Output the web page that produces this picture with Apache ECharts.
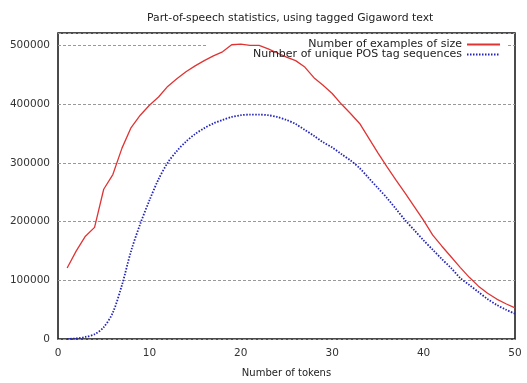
<!DOCTYPE html>
<html>
<head>
<meta charset="utf-8">
<script src="https://cdn.jsdelivr.net/npm/echarts@6/dist/echarts.min.js"></script>
<style>
html, body { margin: 0; padding: 0; background: #fff; }
#chart { width: 527px; height: 383px; }
</style>
</head>
<body>
<div id="chart"></div>
<script>
// 句子长度 (tokens)
var tokens = [];
for (var i = 1; i <= 50; i++) tokens.push(i);

// Number of examples of size
var examples = [
    121000, 150000, 175000, 190000, 255000, 280000, 325000, 360000, 381000, 398000,
    412000, 430000, 443000, 455000, 465000, 474000, 482000, 489000, 501000, 502000,
    500000, 500000, 494000, 487000, 480000, 474000, 463000, 445000, 432000, 418000,
    400000, 384000, 367000, 342000, 317000, 293000, 270000, 248000, 225000, 202000,
    177000, 158000, 140000, 122000, 105000, 90000, 78000, 68000, 60000, 53000
];

// Number of unique POS tag sequences
var uniqueTags = [
    0, 1000, 3500, 8000, 20000, 45000, 92000, 150000, 196000, 236000,
    272000, 300000, 320000, 336000, 349000, 359000, 367000, 373000, 378000, 381000,
    382000, 382000, 381000, 378000, 373000, 366000, 356000, 346000, 335000, 326000,
    315000, 304000, 291000, 274000, 257000, 240000, 221000, 202000, 185000, 168000,
    152000, 136000, 121000, 104000, 92000, 80000, 68000, 58000, 50000, 43000
];

var seriesNames = ['Number of examples of size', 'Number of unique POS tag sequences'];

function pairs(vals) {
    return tokens.map(function (t, i) { return [t, vals[i]]; });
}

var font = 'DejaVu Sans';
var myChart = echarts.init(document.getElementById('chart'));

// 图例公共样式
function keyLegend(name, top) {
    return {
        data: [name],
        right: 18,
        top: top,
        align: 'right',
        itemWidth: 33,
        itemHeight: 8,
        padding: [1, 8, 1, 8],
        itemStyle: { opacity: 0 },
        textStyle: { fontFamily: font, fontSize: 11, color: '#222' }
    };
}

var option = {
    animation: false,
    backgroundColor: '#fff',
    title: {
        text: 'Part-of-speech statistics, using tagged Gigaword text',
        left: 142,
        top: 8,
        textStyle: { fontFamily: font, fontSize: 10.8, fontWeight: 'normal', color: '#222' }
    },
    legend: [keyLegend(seriesNames[0], 38), keyLegend(seriesNames[1], 48)],
    // key box hides the grid line behind it, curves stay on top
    graphic: [{
        type: 'rect',
        left: 207,
        top: 40,
        z: 1,
        shape: { width: 300, height: 22 },
        style: { fill: '#fff' }
    }],
    grid: {
        left: 58,
        right: 12,
        top: 33,
        bottom: 37,
        show: true,
        borderColor: '#111',
        borderWidth: 1.5,
        backgroundColor: 'transparent'
    },
    xAxis: {
        type: 'value',
        min: 0,
        max: 50,
        interval: 10,
        name: 'Number of tokens',
        nameLocation: 'middle',
        nameGap: 29,
        nameTextStyle: { fontFamily: font, fontSize: 10, color: '#222' },
        axisLine: { show: false },
        axisTick: { show: false },
        splitLine: { show: false },
        axisLabel: { fontFamily: font, fontSize: 10.5, color: '#333', margin: 9 }
    },
    yAxis: {
        type: 'value',
        min: 0,
        max: 521000,
        interval: 100000,
        axisLine: { show: false },
        axisTick: { show: false },
        splitLine: { show: true, lineStyle: { color: '#999', type: [3, 2], width: 1 } },
        axisLabel: {
            fontFamily: font, fontSize: 10.5, color: '#333', margin: 8, showMaxLabel: false,
            formatter: function (v) { return String(v); }
        }
    },
    series: [{
        name: seriesNames[0],
        type: 'line',
        data: pairs(examples),
        symbol: 'none',
        lineStyle: { color: '#e03434', width: 1.3 },
        itemStyle: { color: '#e03434' },
        z: 3
    }, {
        name: seriesNames[1],
        type: 'line',
        data: pairs(uniqueTags),
        symbol: 'none',
        smooth: 0.3,
        lineStyle: { color: '#2424b8', width: 1.8, type: [1.5, 1.5] },
        itemStyle: { color: '#2424b8' },
        z: 3
    }]
};

myChart.setOption(option, true);
</script>
</body>
</html>
